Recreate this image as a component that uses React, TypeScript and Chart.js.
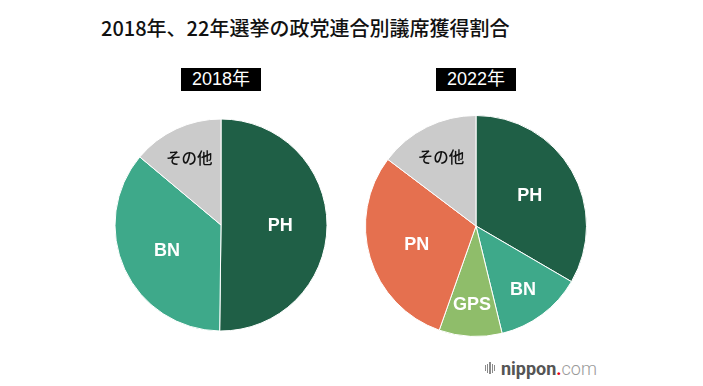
import React, { useEffect, useRef } from 'react';
import { Chart, registerables } from 'chart.js';

Chart.register(...registerables);

const TITLE = '2018年、22年選挙の政党連合別議席獲得割合';
const YEARS = ['2018年', '2022年'];

const categories2018 = ['PH', 'BN', 'その他'];
const values2018 = [50.2, 35.9, 13.9];

const categories2022 = ['PH', 'BN', 'GPS', 'PN', 'その他'];
const values2022 = [33.4, 12.8, 9.2, 29.9, 14.7];

const COLORS: Record<string, string> = {
  PH: '#1f5f46',
  BN: '#3ea98a',
  GPS: '#8fbd6a',
  PN: '#e5704f',
  'その他': '#cbcbcb',
};

const sliceLabelPlugin = {
  id: 'sliceLabels',
  afterDatasetsDraw(chart: any) {
    const ctx = chart.ctx;
    const meta = chart.getDatasetMeta(0);
    const labels = chart.data.labels as string[];
    meta.data.forEach((arc: any, i: number) => {
      const p = arc.getProps(['x', 'y', 'startAngle', 'endAngle', 'outerRadius'], true);
      const span = p.endAngle - p.startAngle;
      const mid = (p.startAngle + p.endAngle) / 2;
      const frac = span > Math.PI / 2 ? 0.56 : 0.71;
      const x = p.x + Math.cos(mid) * p.outerRadius * frac;
      const y = p.y + Math.sin(mid) * p.outerRadius * frac;
      const label = labels[i];
      ctx.save();
      ctx.textAlign = 'center';
      ctx.textBaseline = 'middle';
      if (label === 'その他') {
        ctx.fillStyle = '#111111';
        ctx.font = '500 15.5px "Noto Sans CJK JP", sans-serif';
      } else {
        ctx.fillStyle = '#ffffff';
        ctx.font = 'bold 18px "Liberation Sans", Arial, sans-serif';
      }
      ctx.fillText(label, x, y + 1);
      ctx.restore();
    });
  },
};

function Pie({ labels, values, radius, left, top }: { labels: string[]; values: number[]; radius: number; left: number; top: number }) {
  const ref = useRef<HTMLCanvasElement | null>(null);
  useEffect(() => {
    if (!ref.current) return;
    const chart = new Chart(ref.current, {
      type: 'pie',
      data: {
        labels,
        datasets: [
          {
            data: values,
            backgroundColor: labels.map((l) => COLORS[l]),
            borderColor: '#ffffff',
            borderWidth: 1,
          },
        ],
      },
      options: {
        animation: false,
        responsive: false,
        radius,
        layout: { padding: 0 },
        plugins: {
          legend: { display: false },
          tooltip: { enabled: false },
          title: { display: false },
        },
      },
      plugins: [sliceLabelPlugin],
    });
    return () => chart.destroy();
  }, []);
  return (
    <canvas
      ref={ref}
      width={240}
      height={240}
      style={{ position: 'absolute', left, top, width: 240, height: 240 }}
    />
  );
}

function YearBox({ text, cx }: { text: string; cx: number }) {
  return (
    <div
      style={{
        position: 'absolute',
        left: cx - 40,
        top: 68,
        width: 80,
        height: 23,
        background: '#000000',
        color: '#ffffff',
        fontFamily: '"Liberation Sans", "Noto Sans CJK JP", sans-serif',
        fontSize: 18,
        lineHeight: '23px',
        textAlign: 'center',
      }}
    >
      {text}
    </div>
  );
}

const barHeights = [6, 9, 12, 9, 6];

export default function App() {
  useEffect(() => {
    document.body.style.margin = '0';
  }, []);
  return (
    <div
      style={{
        position: 'fixed',
        left: 0,
        top: 0,
        width: 703,
        height: 386,
        background: '#ffffff',
        overflow: 'hidden',
      }}
    >
      <div
        style={{
          position: 'absolute',
          left: 101,
          top: 18,
          fontFamily: '"Noto Sans CJK JP", sans-serif',
          fontWeight: 500,
          fontSize: 20,
          lineHeight: '20px',
          color: '#111111',
          whiteSpace: 'nowrap',
        }}
      >
        {TITLE}
      </div>
      <YearBox text={YEARS[0]} cx={221} />
      <YearBox text={YEARS[1]} cx={476} />
      <Pie labels={categories2018} values={values2018} radius={106} left={101} top={105} />
      <Pie labels={categories2022} values={values2022} radius={110.5} left={356} top={106} />
      <div
        style={{
          position: 'absolute',
          left: 485,
          top: 358,
          height: 20,
          display: 'flex',
          alignItems: 'center',
          whiteSpace: 'nowrap',
        }}
      >
        <div style={{ display: 'flex', alignItems: 'center', gap: 1, marginRight: 6 }}>
          {barHeights.map((h, i) => (
            <div key={i} style={{ width: 1.2, height: h, background: '#8a8a8a' }} />
          ))}
        </div>
        <span style={{ fontFamily: 'Roboto, sans-serif', fontWeight: 700, fontSize: 18, color: '#555555' }}>nippon</span>
        <span style={{ fontFamily: 'Roboto, sans-serif', fontWeight: 700, fontSize: 18, color: '#e60012' }}>.</span>
        <span style={{ fontFamily: 'Roboto, sans-serif', fontWeight: 300, fontSize: 18, color: '#9a9a9a' }}>com</span>
      </div>
    </div>
  );
}
